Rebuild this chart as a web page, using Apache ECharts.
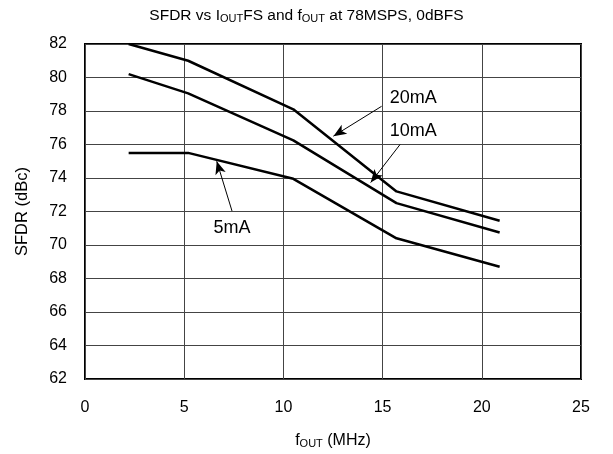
<!DOCTYPE html>
<html>
<head>
<meta charset="utf-8">
<script src="https://cdn.jsdelivr.net/npm/echarts@6/dist/echarts.min.js"></script>
<style>
html,body{margin:0;padding:0;background:#fff;}
#c{width:613px;height:454px;}
</style>
</head>
<body>
<div id="c"></div>
<script>
const fout = [2.2, 5.2, 10.5, 15.7, 20.9];
const sfdr20mA = [82.0, 81.0, 78.1, 73.2, 71.45];
const sfdr10mA = [80.2, 79.05, 76.25, 72.5, 70.75];
const sfdr5mA = [75.5, 75.5, 73.95, 70.4, 68.7];
const xTicks = [0, 5, 10, 15, 20, 25];
const yTicks = [62, 64, 66, 68, 70, 72, 74, 76, 78, 80, 82];
// annotation: label position and arrow (tail -> tip) in data units
const labels20 = {text: '20mA', at: [16.55, 78.78], tail: [14.95, 78.28], tip: [12.52, 76.5]};
const labels10 = {text: '10mA', at: [16.55, 76.78], tail: [15.88, 76.0], tip: [14.4, 73.73]};
const labels5 = {text: '5mA', at: [7.41, 71.0], tail: [7.41, 72.03], tip: [6.64, 75.0]};

const font = 'Liberation Sans, Arial, sans-serif';

function mk(values, ann) {
  return {
    type: 'line',
    data: fout.map((x, i) => [x, values[i]]),
    symbol: 'none',
    lineStyle: {color: '#000', width: 2.5},
    markLine: {
      silent: true,
      symbol: ['none', 'arrow'],
      symbolSize: [8, 13],
      label: {show: false},
      lineStyle: {color: '#000', width: 1, type: 'solid'},
      data: [[{coord: ann.tail}, {coord: ann.tip}]]
    },
    markPoint: {
      silent: true,
      symbol: 'circle',
      symbolSize: 0,
      label: {show: true, position: 'inside', formatter: ann.text, color: '#000', fontSize: 18, fontFamily: font},
      data: [{coord: ann.at, value: ann.text}]
    }
  };
}

const rich = {
  a: {fontSize: 15.5, fontFamily: font, fontWeight: 'normal', color: '#000', lineHeight: 20, verticalAlign: 'bottom'},
  s: {fontSize: 11, fontFamily: font, fontWeight: 'normal', color: '#000', lineHeight: 11, verticalAlign: 'bottom'}
};
const rich2 = {
  a: {fontSize: 16, fontFamily: font, fontWeight: 'normal', color: '#000', lineHeight: 20, verticalAlign: 'bottom'},
  s: {fontSize: 11, fontFamily: font, fontWeight: 'normal', color: '#000', lineHeight: 11, verticalAlign: 'bottom'}
};

const chart = echarts.init(document.getElementById('c'));
chart.setOption({
  animation: false,
  backgroundColor: '#fff',
  title: {
    left: 'center',
    top: -1,
    text: '{a|SFDR vs I}{s|OUT}{a|FS and f}{s|OUT}{a| at 78MSPS, 0dBFS}',
    textStyle: {fontWeight: 'normal', rich: rich}
  },
  grid: {left: 85, right: 32, top: 44, bottom: 73, show: true, borderColor: '#000', borderWidth: 2, backgroundColor: 'transparent'},
  xAxis: {
    type: 'value', min: xTicks[0], max: xTicks[xTicks.length - 1], interval: 5,
    axisLine: {show: false}, axisTick: {show: false},
    splitLine: {show: true, lineStyle: {color: '#444', width: 1}},
    axisLabel: {color: '#000', fontSize: 16, fontFamily: font, margin: 21},
    name: '{a|f}{s|OUT}{a| (MHz)}',
    nameLocation: 'middle', nameGap: 50,
    nameTextStyle: {rich: rich2}
  },
  yAxis: {
    type: 'value', min: yTicks[0], max: yTicks[yTicks.length - 1], interval: 2,
    axisLine: {show: false}, axisTick: {show: false},
    splitLine: {show: true, lineStyle: {color: '#444', width: 1}},
    axisLabel: {color: '#000', fontSize: 16, fontFamily: font, margin: 18},
    name: 'SFDR (dBc)', nameLocation: 'middle', nameGap: 54,
    nameTextStyle: {color: '#000', fontSize: 16.5, fontFamily: font}
  },
  series: [mk(sfdr20mA, labels20), mk(sfdr10mA, labels10), mk(sfdr5mA, labels5)]
});
</script>
</body>
</html>
